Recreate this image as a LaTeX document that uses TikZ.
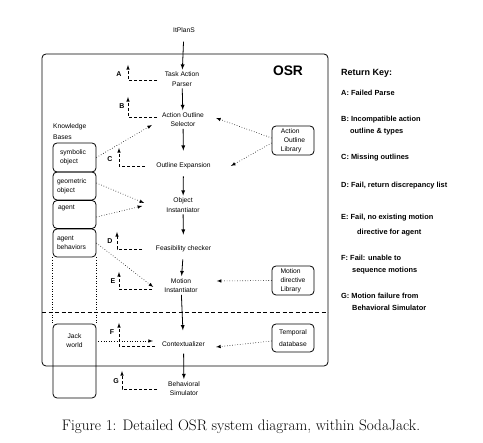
\documentclass[tikz,border=0pt]{standalone}
\usepackage{fontspec}
\setsansfont{Liberation Sans}
\usepackage{tikz}

\begin{document}
\begin{tikzpicture}[x=1pt,y=1pt]
\tikzstyle{every node}+=[inner sep=0pt]
\tikzstyle{stage}=[font=\sffamily\fontsize{6.7}{9.5}\selectfont, align=center, inner sep=2pt]
\tikzstyle{kb}=[draw=black, line width=0.8pt, rounded corners=4pt, minimum width=43pt, text width=35pt, font=\sffamily\fontsize{6.7}{9}\selectfont, align=left]
\tikzstyle{lib}=[draw=black, line width=0.8pt, rounded corners=4pt, minimum width=42pt, font=\sffamily\fontsize{6.7}{9}\selectfont]
\tikzstyle{code}=[font=\sffamily\bfseries\fontsize{7}{8}\selectfont]
\tikzstyle{key}=[font=\sffamily\bfseries\fontsize{7.4}{9}\selectfont, anchor=west]
\tikzstyle{flow}=[black, line width=0.8pt, -latex]
\tikzstyle{feed}=[black, line width=0.6pt, dotted, -latex]
\tikzstyle{ret}=[black, line width=0.6pt, dash pattern=on 3pt off 2pt, -latex]
\useasboundingbox (0,0) rectangle (483,-443);
\draw [black, line width=0.8pt, rounded corners=4pt] (42,-54) rectangle (328,-366);
\node [font=\sffamily\bfseries\fontsize{13.8}{16}\selectfont] (osr) at (288,-71) {OSR};
\draw [black, line width=0.7pt, dash pattern=on 4pt off 2.5pt] (42,-312) -- (328,-312);
\node [stage] (itplans) at (184,-30) {ItPlanS};
\node [stage] (parser) at (182,-79) {Task Action\\Parser};
\node [stage] (selector) at (183,-119.5) {Action Outline\\Selector};
\node [stage] (expansion) at (183.5,-166) {Outline Expansion};
\node [stage] (instantiator) at (183,-205) {Object\\Instantiator};
\node [stage] (checker) at (183.5,-249) {Feasibility checker};
\node [stage] (motion) at (181,-285.5) {Motion\\Instantiator};
\node [stage] (context) at (183.5,-344) {Contextualizer};
\node [stage] (simulator) at (184,-388.5) {Behavioral\\Simulator};
\draw [flow, shorten <=7pt] (itplans) -- (parser);
\draw [flow] (parser) -- (selector);
\draw [flow, shorten >=10pt] (selector) -- (expansion);
\draw [flow, shorten <=5pt] (expansion) -- (instantiator);
\draw [flow, shorten >=9pt] (instantiator) -- (checker);
\draw [flow, shorten <=5pt] (checker) -- (motion);
\draw [flow, shorten >=9pt] (motion) -- (context);
\draw [flow, shorten <=5pt] (context) -- (simulator);
\node [code] (codea) at (119,-74) {A};
\node [code] (codeb) at (122,-106) {B};
\node [code] (codec) at (110,-159) {C};
\node [code] (coded) at (110,-241) {D};
\node [code] (codee) at (113,-281) {E};
\node [code] (codef) at (112,-332) {F};
\node [code] (codeg) at (116,-381) {G};
\coordinate (reta) at (157,-80);
\coordinate (tipa) at (128,-65);
\coordinate (retb) at (157,-117);
\coordinate (tipb) at (128,-97);
\coordinate (retc) at (145,-166);
\coordinate (tipc) at (119,-148);
\coordinate (retd) at (142,-249);
\coordinate (tipd) at (117,-232);
\coordinate (rete) at (152,-289);
\coordinate (tipe) at (119,-272);
\coordinate (retf) at (155,-346);
\coordinate (tipf) at (119,-323);
\coordinate (retg) at (157,-389);
\coordinate (tipg) at (122,-371);
\draw [ret] (reta) -| (tipa);
\draw [ret] (retb) -| (tipb);
\draw [ret] (retc) -| (tipc);
\draw [ret] (retd) -| (tipd);
\draw [ret] (rete) -| (tipe);
\draw [ret] (retf) -| (tipf);
\draw [ret] (retg) -| (tipg);
\node [font=\sffamily\fontsize{6.7}{11}\selectfont, align=left, anchor=north west] (kbases) at (53,-123) {Knowledge\\Bases};
\node [kb, minimum height=29pt] (symbolic) at (74.5,-157.5) {\hspace{3pt}symbolic\\\hspace{3pt}object};
\node [kb, minimum height=28pt] (geometric) at (74.5,-186) {geometric\\object};
\node [kb, minimum height=28pt, text depth=15pt] (agent) at (74.5,-214.5) {\hspace{1pt}agent};
\node [kb, minimum height=28pt] (behaviors) at (74.5,-243) {agent\\behaviors};
\node [kb, minimum height=74pt, text depth=49pt, align=center] (jack) at (74.5,-361) {Jack\\world};
\draw [black, line width=0.6pt, dotted] (behaviors.south west) -- (jack.north west);
\draw [black, line width=0.6pt, dotted] (behaviors.south east) -- (jack.north east);
\node [lib, minimum height=29pt, align=left] (outlinelib) at (293,-140.5) {Action\\\hspace{3pt}Outline\\Library};
\node [lib, minimum height=29pt, align=left] (motionlib) at (293,-280.5) {Motion\\directive\\Library};
\node [lib, minimum height=28pt, align=center, font=\sffamily\fontsize{6.7}{12}\selectfont] (temporal) at (293,-338) {Temporal\\database};
\draw [feed] ([yshift=2.5pt]outlinelib.west) -- ([xshift=10pt,yshift=1.5pt]selector.east);
\draw [feed] ([yshift=-2.5pt]outlinelib.west) -- ([xshift=18pt]expansion.east);
\draw [feed] (symbolic.east) -- ([xshift=-8pt,yshift=-5.5pt]selector.west);
\draw [feed] ([yshift=3pt]geometric.east) -- ([xshift=-20pt,yshift=2pt]instantiator.west);
\draw [feed] ([yshift=-2.5pt]agent.east) -- ([xshift=-22pt,yshift=-1pt]instantiator.west);
\draw [feed] (behaviors.east) -- ([xshift=-9pt,yshift=-1.5pt]motion.west);
\draw [feed] ([xshift=2pt,yshift=20pt]jack.east) -- ([xshift=-7pt,yshift=3pt]context.west);
\draw [feed] (motionlib.west) -- ([xshift=17pt,yshift=4.5pt]motion.east);
\draw [feed] ([yshift=-3pt]temporal.west) -- ([xshift=9pt,yshift=-3pt]context.east);
\node [key, font=\sffamily\bfseries\fontsize{9}{11}\selectfont] (keytitle) at (341,-73) {Return Key:};
\node [key] (keya) at (341,-93) {A: Failed Parse};
\node [key] (keyb) at (341,-120) {B: Incompatible action};
\node [key] (keybb) at (350,-132) {outline \& types};
\node [key] (keyc) at (341,-158) {C: Missing outlines};
\node [key] (keyd) at (341,-186) {D: Fail, return discrepancy list};
\node [key] (keye) at (341,-218) {E: Fail, no existing motion};
\node [key] (keyee) at (357,-233) {directive for agent};
\node [key] (keyf) at (341,-258) {F: Fail: unable to};
\node [key] (keyff) at (352,-271) {sequence motions};
\node [key] (keyg) at (341,-296) {G: Motion failure from};
\node [key] (keygg) at (352,-308) {Behavioral Simulator};
\node [font=\fontsize{15.2}{18}\selectfont] (caption) at (241,-427) {Figure 1: Detailed OSR system diagram, within SodaJack.};
\end{tikzpicture}
\end{document}
